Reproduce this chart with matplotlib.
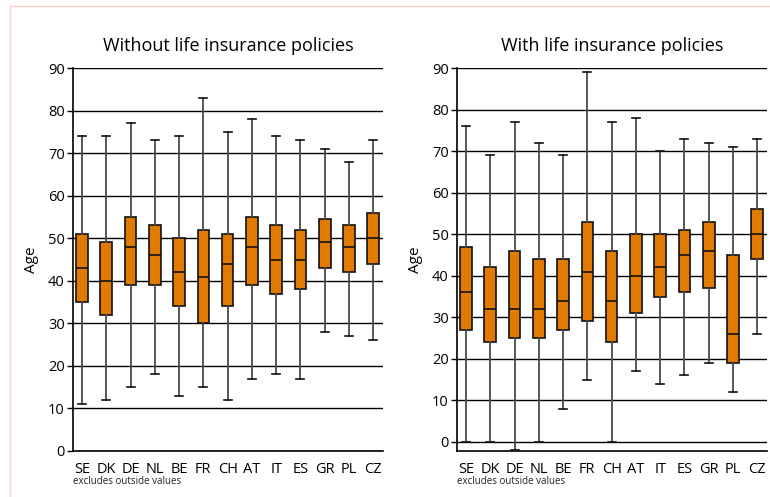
import matplotlib.pyplot as plt
from matplotlib.patches import Rectangle

countries = ["SE", "DK", "DE", "NL", "BE", "FR", "CH", "AT", "IT", "ES", "GR", "PL", "CZ"]

# Without life insurance policies
bez_min = [11, 12, 15, 18, 13, 15, 12, 17, 18, 17, 28, 27, 26]
bez_q1 = [35, 32, 39, 39, 34, 30, 34, 39, 37, 38, 43, 42, 44]
bez_med = [43, 40, 48, 46, 42, 41, 44, 48, 45, 45, 49, 48, 50]
bez_q3 = [51, 49, 55, 53, 50, 52, 51, 55, 53, 52, 54.5, 53, 56]
bez_max = [74, 74, 77, 73, 74, 83, 75, 78, 74, 73, 71, 68, 73]

# With life insurance policies
s_min = [0, 0, -2, 0, 8, 15, 0, 17, 14, 16, 19, 12, 26]
s_q1 = [27, 24, 25, 25, 27, 29, 24, 31, 35, 36, 37, 19, 44]
s_med = [36, 32, 32, 32, 34, 41, 34, 40, 42, 45, 46, 26, 50]
s_q3 = [47, 42, 46, 44, 44, 53, 46, 50, 50, 51, 53, 45, 56]
s_max = [76, 69, 77, 72, 69, 89, 77, 78, 70, 73, 72, 71, 73]

ORANZOVA = "#E07B00"

plt.rcParams["font.family"] = ["Open Sans", "DejaVu Sans"]


def statistiky(lo, q1, med, q3, hi):
    return [{"whislo": a, "q1": b, "med": c, "q3": d, "whishi": e, "fliers": []}
            for a, b, c, d, e in zip(lo, q1, med, q3, hi)]


def nakresli(ax, stats, title, ymin):
    pozice = range(1, len(countries) + 1)
    ax.bxp(stats, positions=pozice, widths=0.48, capwidths=0.33,
           patch_artist=True, showfliers=False,
           boxprops=dict(facecolor=ORANZOVA, edgecolor="#111111", linewidth=1.2),
           medianprops=dict(color="#111111", linewidth=1.2),
           whiskerprops=dict(color="#4a4a4a", linewidth=1.3),
           capprops=dict(color="#111111", linewidth=1.2),
           zorder=3)
    ax.set_xlim(0.63, 13.4)
    ax.set_ylim(ymin, 90)
    ax.set_yticks(range(0, 91, 10))
    ax.set_xticks(list(pozice))
    ax.set_xticklabels(countries, fontsize=10.5)
    ax.tick_params(axis="x", length=0, pad=8)
    ax.tick_params(axis="y", length=4, width=1, labelsize=10.5, pad=2)
    ax.yaxis.grid(True, color="black", linewidth=1)
    ax.set_axisbelow(True)
    for s in ["top", "right"]:
        ax.spines[s].set_visible(False)
    for s in ["left", "bottom"]:
        ax.spines[s].set_linewidth(1.2)
    ax.set_ylabel("Age", fontsize=11, labelpad=6)
    ax.set_title(title, fontsize=13, pad=12)
    ax.text(0.0, -0.066, "excludes outside values", transform=ax.transAxes,
            fontsize=7, ha="left", va="top", color="#222222")


fig = plt.figure(figsize=(7.7, 4.97), dpi=100)
fig.patches.append(Rectangle((10 / 770, -0.1), 1.2, 1 - 6 / 497 + 0.1,
                             transform=fig.transFigure, fill=False,
                             edgecolor="#FFD0D0", linewidth=1))

ax1 = fig.add_axes([73 / 770, 1 - 451 / 497, 310 / 770, 383 / 497])
ax2 = fig.add_axes([457 / 770, 1 - 451 / 497, 310 / 770, 383 / 497])

nakresli(ax1, statistiky(bez_min, bez_q1, bez_med, bez_q3, bez_max),
         "Without life insurance policies", 0)
nakresli(ax2, statistiky(s_min, s_q1, s_med, s_q3, s_max),
         "With life insurance policies", -2.17)

fig.savefig("out.png", dpi=100)
